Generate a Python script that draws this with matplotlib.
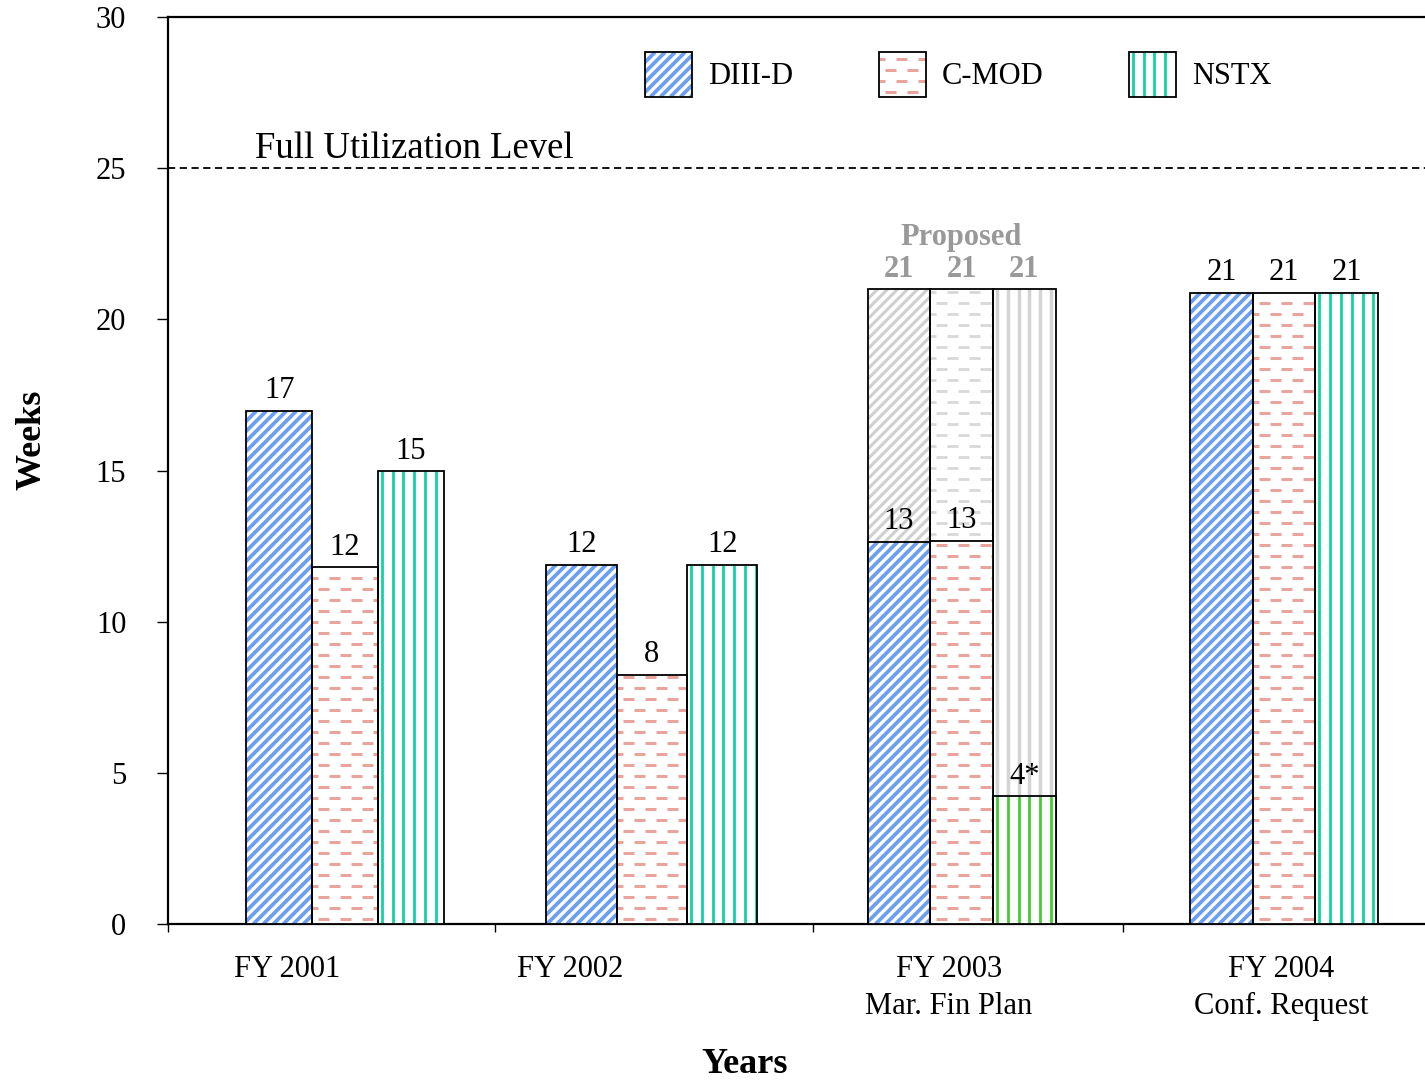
import numpy as np
import matplotlib.pyplot as plt
from matplotlib.patches import Rectangle
from matplotlib.collections import LineCollection
from matplotlib.transforms import IdentityTransform, blended_transform_factory
from matplotlib.legend_handler import HandlerBase

plt.rcParams['font.family'] = ['Liberation Serif', 'DejaVu Serif']

# data (weeks of operation)
years = ['FY 2001', 'FY 2002', 'FY 2003\nMar. Fin Plan', 'FY 2004\nConf. Request']
machines = ['DIII-D', 'C-MOD', 'NSTX']
diiid = [16.97, 11.88, 12.64, 20.87]
cmod = [11.8, 8.24, 12.67, 20.87]
nstx = [14.98, 11.88, 4.23, 20.87]
value_labels = [['17', '12', '15'], ['12', '8', '12'], ['13', '13', '4*'], ['21', '21', '21']]
proposed_fy2003 = [21.0, 21.0, 21.0]
proposed_labels = ['21', '21', '21']
full_utilization = 25

# layout
centers = [0, 0.98, 1.97, 3.0]
widths = [0.21, 0.225, 0.2, 0.2]
year_shift = [-0.185, -0.262, -0.04, -0.01]

styles = {'DIII-D': ('diag', '#6C9FF0', 2.7),
          'C-MOD': ('dash', '#E9A49D', 2.2),
          'NSTX': ('vert', '#12D3A3', 2.0)}
gray_styles = {'DIII-D': ('diag', '#CFCFCF', 2.2),
               'C-MOD': ('dash', '#D8D8D8', 2.0),
               'NSTX': ('vert', '#D4D4D4', 2.5)}
green = ('vert', '#44CC33', 2.0)


def pattern_segments(x0, y0, x1, y1, kind, unit=1.0):
    # unit = pixels per coordinate unit
    segs = []
    if kind == 'diag':
        s = 10.0 / unit
        h = y1 - y0
        for c in np.arange(x0 - h, x1 + s, s):
            segs.append([(c, y0), (c + h, y1)])
    elif kind == 'vert':
        s = 10.8 / unit
        for x in np.arange(x0 + 4 / unit, x1, s):
            segs.append([(x, y0), (x, y1)])
    elif kind == 'dash':
        dy, L, P = 11 / unit, 11 / unit, 22 / unit
        for i, y in enumerate(np.arange(y0 + 5 / unit, y1, dy)):
            start = x0 - P + 6 / unit + (i % 2) * P / 2
            for xs in np.arange(start, x1, P):
                a, b = max(xs, x0), min(xs + L, x1)
                if b > a:
                    segs.append([(a, y), (b, y)])
    return segs


fig = plt.figure(figsize=(14.25, 10.81), dpi=100)
ax = fig.add_axes([168 / 1425, 1 - 924 / 1081, (1440 - 168) / 1425, 907 / 1081])
ax.set_xlim((168 - 345) / 313, (1440 - 345) / 313)
ax.set_ylim(0, 30)


def draw_bar(xc, w, h, style, z=2):
    kind, color, lw = style
    rect = ax.bar(xc, h, w, facecolor='white', edgecolor='none', zorder=z)[0]
    x0, y0 = ax.transData.transform((xc - w / 2, 0))
    x1, y1 = ax.transData.transform((xc + w / 2, h))
    lc = LineCollection(pattern_segments(x0, y0, x1, y1, kind), colors=color,
                        linewidths=lw, transform=IdentityTransform(), zorder=z + 0.1)
    ax.add_collection(lc, autolim=False)
    lc.set_clip_path(rect)
    ax.bar(xc, h, w, fill=False, edgecolor='black', linewidth=1.3, zorder=z + 0.2)


series = [diiid, cmod, nstx]

# proposed FY 2003 (gray, behind)
w = widths[2]
for j, m in enumerate(machines):
    xc = centers[2] + (j - 1) * w
    draw_bar(xc, w, proposed_fy2003[j], gray_styles[m], z=2)
    ax.annotate(proposed_labels[j], (xc, proposed_fy2003[j]), xytext=(0, 4),
                textcoords='offset points', ha='center', va='bottom',
                fontsize=22, fontweight='bold', color='#999999')
ax.annotate('Proposed', (centers[2], max(proposed_fy2003)), xytext=(0, 27),
            textcoords='offset points', ha='center', va='bottom',
            fontsize=22, fontweight='bold', color='#999999')

for i in range(len(years)):
    w = widths[i]
    for j, m in enumerate(machines):
        xc = centers[i] + (j - 1) * w
        st = styles[m]
        if i == 2 and m == 'NSTX':
            st = green
        draw_bar(xc, w, series[j][i], st, z=3)
        ax.annotate(value_labels[i][j], (xc, series[j][i]), xytext=(0, 4),
                    textcoords='offset points', ha='center', va='bottom',
                    fontsize=22, zorder=5)

# full utilization line
ax.axhline(full_utilization, color='black', linestyle=(0, (4, 2.5)), linewidth=1.3, zorder=1)
ax.text((255 - 345) / 313, full_utilization + 0.08, 'Full Utilization Level',
        fontsize=26.5, ha='left', va='bottom')

# axes styling
for s in ax.spines.values():
    s.set_linewidth(1.6)
ax.set_yticks(range(0, 31, 5))
ax.tick_params(axis='y', direction='out', length=8, width=1, pad=22, labelsize=22)
ax.set_xticks([])
bounds = [ax.get_xlim()[0]]
for i in range(len(centers) - 1):
    right = centers[i] + 1.5 * widths[i]
    left = centers[i + 1] - 1.5 * widths[i + 1]
    bounds.append((right + left) / 2)
ax.set_xticks(bounds, minor=True)
ax.tick_params(axis='x', which='minor', direction='out', length=6, width=1)

tr = blended_transform_factory(ax.transData, ax.transAxes)
for i, lab in enumerate(years):
    ax.text(centers[i] + year_shift[i], -0.034, lab, transform=tr, ha='center',
            va='top', fontsize=22, linespacing=1.35)

ax.set_ylabel('Weeks', fontsize=26, fontweight='bold')
ax.yaxis.set_label_coords(-0.094, 0.534)
ax.set_xlabel('Years', fontsize=26, fontweight='bold')
ax.xaxis.set_label_coords(0.4536, -0.137)


# legend with pattern swatches
class PatternHandler(HandlerBase):
    def create_artists(self, legend, orig_handle, xdescent, ydescent,
                       width, height, fontsize, trans):
        kind, color, lw = orig_handle.pattern
        x0, y0 = -xdescent, -ydescent
        bg = Rectangle((x0, y0), width, height, facecolor='white',
                       edgecolor='none', transform=trans)
        lc = LineCollection(pattern_segments(x0, y0, x0 + width, y0 + height, kind,
                                             unit=fig.dpi / 72),
                            colors=color, linewidths=lw, transform=trans)
        lc.set_clip_path(bg)
        edge = Rectangle((x0, y0), width, height, fill=False,
                         edgecolor='black', linewidth=1.3, transform=trans)
        return [bg, lc, edge]


handles = []
for m in machines:
    h = Rectangle((0, 0), 1, 1)
    h.pattern = styles[m]
    handles.append(h)
ax.legend(handles, machines, handler_map={h: PatternHandler() for h in handles},
          ncol=3, frameon=False, loc='upper left', bbox_to_anchor=(0.363, 0.978),
          borderpad=0, handlelength=1.54, handleheight=1.86, handletextpad=0.52,
          columnspacing=2.8, fontsize=22)

fig.savefig('out.png', dpi=100)
